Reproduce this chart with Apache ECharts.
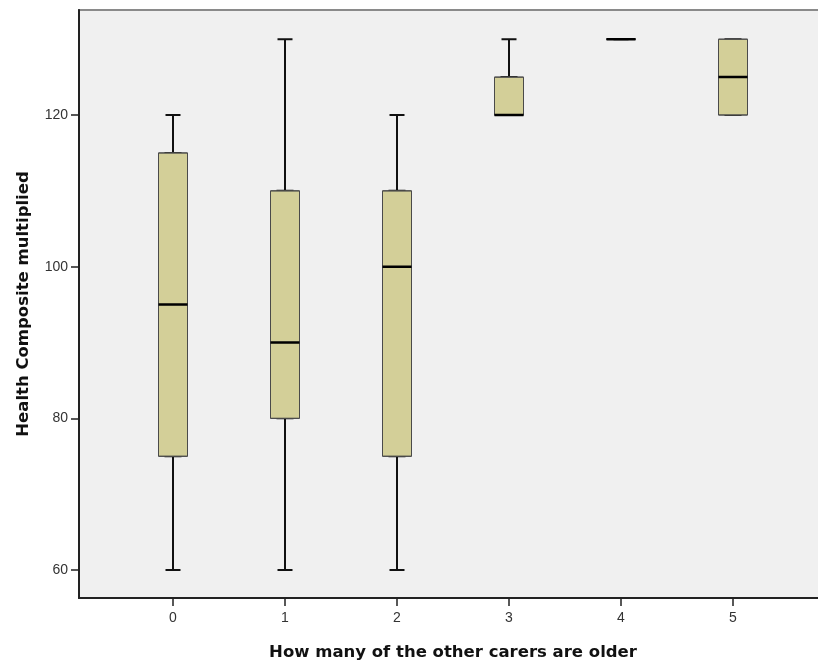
<!DOCTYPE html>
<html>
<head>
<meta charset="utf-8">
<script src="https://cdn.jsdelivr.net/npm/echarts@6/dist/echarts.min.js"></script>
<style>html,body{margin:0;padding:0;background:#fff}#c{width:818px;height:666px}</style>
</head>
<body>
<div id="c"></div>
<script>
var categories = ['0', '1', '2', '3', '4', '5'];
var minVals    = [60, 60, 60, 120, 130, 120];
var q1Vals     = [75, 80, 75, 120, 130, 120];
var medianVals = [95, 90, 100, 120, 130, 125];
var q3Vals     = [115, 110, 110, 125, 130, 130];
var maxVals    = [120, 130, 120, 130, 130, 130];
var yTicks     = [60, 80, 100, 120];
var xTitle = 'How many of the other carers are older';
var yTitle = 'Health Composite multiplied';

var yMin = 56.31, yMax = 133.85;

var whiskerData = categories.map(function (c, i) {
  return [minVals[i], q1Vals[i], medianVals[i], q3Vals[i], maxVals[i]];
});
var boxData = categories.map(function (c, i) {
  return [q1Vals[i], q1Vals[i], medianVals[i], q3Vals[i], q3Vals[i]];
});
var medData = categories.map(function (c, i) {
  var m = medianVals[i];
  return [m, m, m, m, m];
});

var chart = echarts.init(document.getElementById('c'), null, {renderer: 'canvas'});
var fontFam = '"Liberation Sans", Arial, sans-serif';
var titleFam = '"DejaVu Sans", Verdana, sans-serif';
var innerGrid = {left: 117, top: 10, width: 672, bottom: 68, outerBoundsMode: 'none', containLabel: false};
function hiddenX(gi) {
  return {gridIndex: gi, type: 'category', data: categories, boundaryGap: true, show: false};
}
function hiddenY(gi) {
  return {gridIndex: gi, type: 'value', min: yMin, max: yMax, show: false, splitLine: {show: false}};
}
chart.setOption({
  animation: false,
  grid: [
    {left: 79, top: 10, right: -30, bottom: 68, show: true, backgroundColor: '#f0f0f0',
     borderColor: '#8a8a8a', borderWidth: 2, outerBoundsMode: 'none', containLabel: false},
    innerGrid, innerGrid, innerGrid
  ],
  xAxis: [
    {gridIndex: 0, type: 'value', min: 0, max: 1,
     axisLine: {show: true, lineStyle: {color: '#222', width: 2}},
     axisTick: {show: false}, axisLabel: {show: false}, splitLine: {show: false}},
    {gridIndex: 1, type: 'category', data: categories, boundaryGap: true,
     axisLine: {show: false},
     axisTick: {show: true, alignWithLabel: true, length: 8, lineStyle: {color: '#222', width: 1.5}},
     axisLabel: {color: '#333', fontSize: 14, fontFamily: fontFam, margin: 13},
     splitLine: {show: false},
     name: xTitle, nameLocation: 'middle', nameGap: 46,
     nameTextStyle: {color: '#111', fontSize: 16.5, fontWeight: 'bold', fontFamily: titleFam}},
    hiddenX(2), hiddenX(3)
  ],
  yAxis: [
    {gridIndex: 0, type: 'value', min: yMin, max: yMax,
     axisLine: {show: true, lineStyle: {color: '#222', width: 2}},
     axisTick: {show: true, length: 8, customValues: yTicks, lineStyle: {color: '#222', width: 1.5}},
     axisLabel: {color: '#333', fontSize: 14, fontFamily: fontFam, margin: 11, customValues: yTicks},
     splitLine: {show: false},
     name: yTitle, nameLocation: 'middle', nameGap: 47,
     nameTextStyle: {color: '#111', fontSize: 16.5, fontWeight: 'bold', fontFamily: titleFam}},
    hiddenY(1), hiddenY(2), hiddenY(3)
  ],
  series: [
    {type: 'boxplot', xAxisIndex: 1, yAxisIndex: 1, z: 2, boxWidth: [15, 15],
     data: whiskerData,
     itemStyle: {color: '#d3cf98', borderColor: '#111', borderWidth: 2}},
    {type: 'boxplot', xAxisIndex: 2, yAxisIndex: 2, z: 3, boxWidth: [29, 29],
     data: boxData,
     itemStyle: {color: '#d3cf98', borderColor: '#4a4a4a', borderWidth: 1}},
    {type: 'boxplot', xAxisIndex: 3, yAxisIndex: 3, z: 4, boxWidth: [29, 29],
     data: medData,
     itemStyle: {color: '#000', borderColor: '#000', borderWidth: 2.5}}
  ]
});
</script>
</body>
</html>
